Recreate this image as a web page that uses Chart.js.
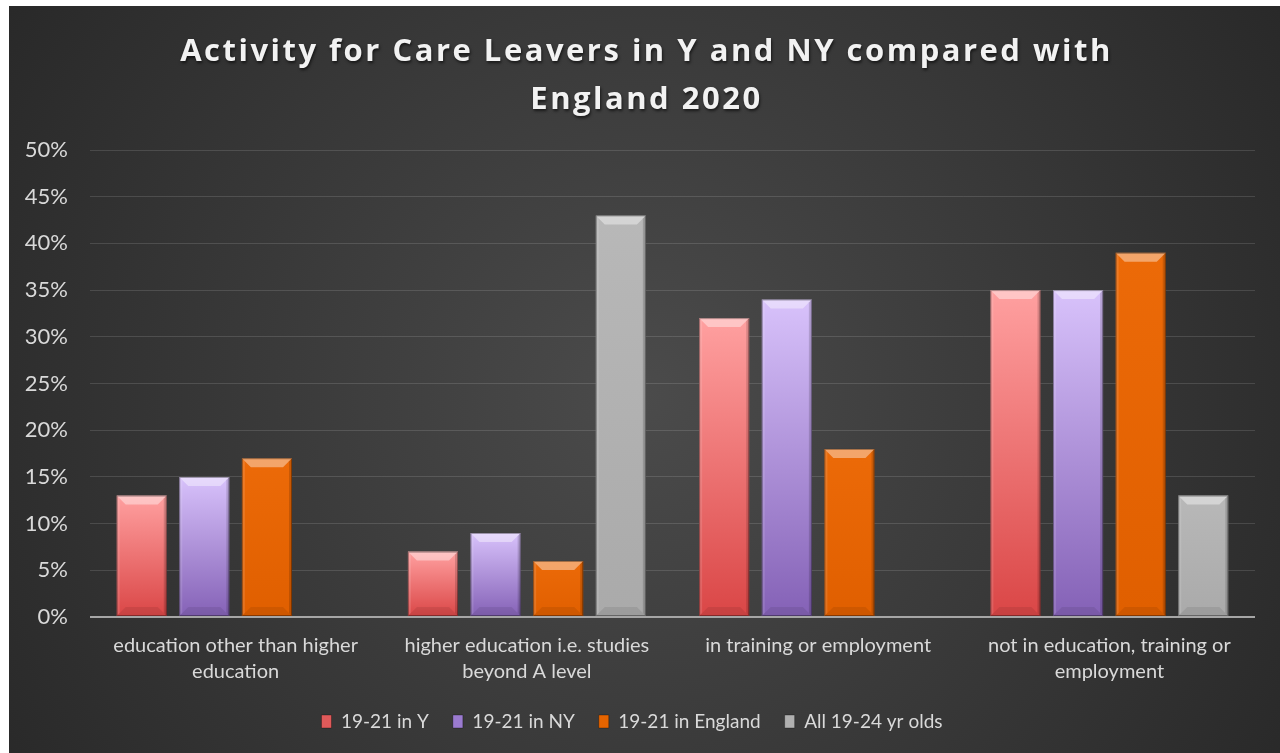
<!DOCTYPE html>
<html>
<head>
<meta charset="utf-8">
<script src="https://cdn.jsdelivr.net/npm/chart.js@4"></script>
<style>
  html, body { margin: 0; padding: 0; background: #ffffff; width: 1280px; height: 753px; overflow: hidden; }
  #wrap { position: absolute; left: 9px; top: 6px; width: 1271px; height: 747px; }
</style>
</head>
<body>
<div id="wrap"><canvas id="c"></canvas></div>
<script>
const titleLines = ["Activity for Care Leavers in Y and NY compared with", "England 2020"];
const categories = [
  ["education other than higher", "education"],
  ["higher education i.e. studies", "beyond A level"],
  "in training or employment",
  ["not in education, training or", "employment"]
];
const seriesNames = ["19-21 in Y", "19-21 in NY", "19-21 in England", "All 19-24 yr olds"];
const valuesY = [13, 7, 32, 35];
const valuesNY = [15, 9, 34, 35];
const valuesEngland = [17, 6, 18, 39];
const valuesAll = [null, 43, null, 13];
const yTicks = { min: 0, max: 50, step: 5 };

const palette = [
  { top: '#ffa0a0', bottom: '#da4646', solid: '#e05a5a' },
  { top: '#d8c2fb', bottom: '#8461b6', solid: '#9b7bd0' },
  { top: '#ec6a08', bottom: '#e05f00', solid: '#e56400' },
  { top: '#b8b8b8', bottom: '#aaaaaa', solid: '#b0b0b0' }
];

function barFill(i) {
  return function (ctx) {
    const p = palette[i];
    if (ctx.type !== 'data' || !ctx.chart.chartArea) return p.solid;
    const y = ctx.chart.scales.y;
    const v = ctx.parsed ? ctx.parsed.y : null;
    if (v == null) return p.solid;
    const top = y.getPixelForValue(v);
    const bot = y.getPixelForValue(0);
    if (!isFinite(top) || !isFinite(bot) || bot - top < 1) return p.solid;
    const g = ctx.chart.ctx.createLinearGradient(0, top, 0, bot);
    g.addColorStop(0, p.top);
    g.addColorStop(1, p.bottom);
    return g;
  };
}

const bgPlugin = {
  id: 'bg',
  beforeDraw(chart) {
    const { ctx, width, height } = chart;
    ctx.save();
    const g = ctx.createRadialGradient(width * 0.5, height * 0.52, 0, width * 0.5, height * 0.52, width * 0.62);
    g.addColorStop(0, '#4b4b4b');
    g.addColorStop(1, '#272727');
    ctx.fillStyle = g;
    ctx.fillRect(0, 0, width, height);
    ctx.restore();
  }
};

const titlePlugin = {
  id: 'spacedTitle',
  afterDraw(chart) {
    const { ctx, width } = chart;
    ctx.save();
    ctx.font = 'bold 31px "Open Sans", sans-serif';
    ctx.letterSpacing = '2.5px';
    ctx.textAlign = 'center';
    ctx.textBaseline = 'middle';
    ctx.fillStyle = '#f2f2f2';
    ctx.shadowColor = 'rgba(0,0,0,0.6)';
    ctx.shadowOffsetX = 1;
    ctx.shadowOffsetY = 2;
    ctx.shadowBlur = 3;
    titleLines.forEach((t, i) => ctx.fillText(t, width / 2 + 2, 46 + i * 48));
    ctx.restore();
  }
};

const bevelPlugin = {
  id: 'bevel',
  afterDatasetsDraw(chart) {
    const ctx = chart.ctx;
    chart.data.datasets.forEach((ds, di) => {
      const meta = chart.getDatasetMeta(di);
      meta.data.forEach((bar, idx) => {
        if (ds.data[idx] == null) return;
        const w = bar.width;
        const l = bar.x - w / 2, r = bar.x + w / 2;
        const t = bar.y, b = bar.base;
        const h = b - t;
        if (h < 2) return;
        const bv = Math.min(9, h / 3);
        const sv = 3;
        ctx.save();
        ctx.beginPath();
        ctx.moveTo(l, t); ctx.lineTo(r, t); ctx.lineTo(r - bv, t + bv); ctx.lineTo(l + bv, t + bv); ctx.closePath();
        ctx.fillStyle = 'rgba(255,255,255,0.4)';
        ctx.fill();
        ctx.beginPath();
        ctx.moveTo(l, t); ctx.lineTo(l + sv, t + sv); ctx.lineTo(l + sv, b - sv); ctx.lineTo(l, b); ctx.closePath();
        ctx.fillStyle = 'rgba(255,255,255,0.12)';
        ctx.fill();
        ctx.beginPath();
        ctx.moveTo(r, t); ctx.lineTo(r - sv, t + sv); ctx.lineTo(r - sv, b - sv); ctx.lineTo(r, b); ctx.closePath();
        ctx.fillStyle = 'rgba(0,0,0,0.15)';
        ctx.fill();
        ctx.beginPath();
        ctx.moveTo(l, b); ctx.lineTo(r, b); ctx.lineTo(r - bv, b - bv); ctx.lineTo(l + bv, b - bv); ctx.closePath();
        ctx.fillStyle = 'rgba(0,0,0,0.08)';
        ctx.fill();
        ctx.strokeStyle = 'rgba(0,0,0,0.35)';
        ctx.lineWidth = 1;
        ctx.strokeRect(l + 0.5, t + 0.5, w - 1, h - 1);
        ctx.restore();
      });
    });
  }
};

const allValues = [valuesY, valuesNY, valuesEngland, valuesAll];

new Chart(document.getElementById('c'), {
  type: 'bar',
  data: {
    labels: categories,
    datasets: allValues.map((vals, i) => ({
      label: seriesNames[i],
      data: vals,
      backgroundColor: barFill(i),
      borderWidth: 0,
      categoryPercentage: 0.86,
      barPercentage: 0.8
    }))
  },
  options: {
    responsive: true,
    maintainAspectRatio: false,
    animation: false,
    layout: { padding: { top: 144, right: 25, left: 0, bottom: 12 } },
    scales: {
      y: {
        min: yTicks.min,
        max: yTicks.max,
        ticks: {
          stepSize: yTicks.step,
          color: '#d9d9d9',
          font: { family: 'Lato, sans-serif', size: 22 },
          padding: 22,
          callback: v => v + '%'
        },
        grid: {
          drawTicks: false,
          color: c => c.tick && c.tick.value === 0 ? '#a6a6a6' : 'rgba(255,255,255,0.13)',
          lineWidth: c => c.tick && c.tick.value === 0 ? 2 : 1
        },
        border: { display: false },
        afterFit(s) { s.width = 81; }
      },
      x: {
        ticks: {
          color: '#d9d9d9',
          font: { family: 'Lato, sans-serif', size: 20, lineHeight: 1.3 },
          padding: 8,
          maxRotation: 0,
          autoSkip: false
        },
        grid: { display: false },
        border: { display: false },
        afterFit(s) { s.height -= 5; }
      }
    },
    plugins: {
      title: { display: false },
      tooltip: { enabled: false },
      legend: {
        position: 'bottom',
        labels: {
          color: '#d9d9d9',
          font: { family: 'Lato, sans-serif', size: 19 },
          boxWidth: 10,
          boxHeight: 13,
          padding: 24,
          generateLabels(chart) {
            return chart.data.datasets.map((ds, i) => ({
              text: ds.label,
              fillStyle: palette[i].solid,
              strokeStyle: 'rgba(0,0,0,0.3)',
              lineWidth: 1,
              fontColor: '#d9d9d9',
              datasetIndex: i,
              hidden: false
            }));
          }
        }
      }
    }
  },
  plugins: [bgPlugin, bevelPlugin, titlePlugin]
});
</script>
</body>
</html>
